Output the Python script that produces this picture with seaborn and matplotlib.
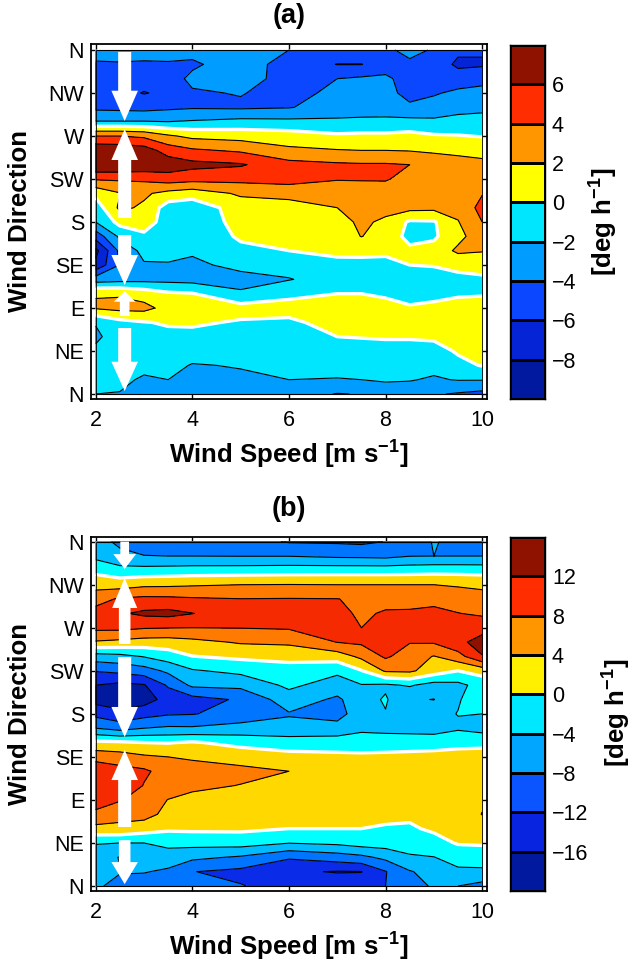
import numpy as np
import matplotlib
matplotlib.use("Agg")
import matplotlib.pyplot as plt
from matplotlib.colors import ListedColormap
import seaborn as sns

speeds = [2, 2.5, 3, 3.5, 4, 5, 6, 7, 7.5, 8, 8.5, 9, 9.5, 10]
dirs_desc = list(range(360, -1, -15))
dir_ticks = [0, 45, 90, 135, 180, 225, 270, 315, 360]
dir_labels = ["N", "NE", "E", "SE", "S", "SW", "W", "NW", "N"]
speed_ticks = [2, 4, 6, 8, 10]

# panel (a): one list per wind speed, from top of the plot (N, 360) to bottom (N, 0)
a_20 = [-3, -4.3, -4.8, -5, -4.5, -1.9, 4, 7.6, 7.9, 4.2, .5, -1.1, -2, -5.2, -8.6, -7.5, -3, 1.9, 2.2, -1.9, -2.3, -1.7, -1.5, -1.4, -2.0]
a_25 = [-3, -4.2, -4.9, -5.4, -4.6, -1.9, 4, 7.4, 7.8, 4.3, 1.9, 2.4, .6, -1.6, -3.5, -3.9, -2.7, 1.8, 2.6, -.6, -1.2, -1.1, -1.1, -1.5, -2.1]
a_30 = [-3.1, -4.3, -5.2, -6.1, -4.7, -1.9, 3.6, 7, 7.5, 4.4, 2.3, 1.7, 1.2, -.5, -1.4, -2.2, -2.6, 1.1, 2.6, -.1, -1, -1.2, -1.4, -2.3, -3]
a_35 = [-3.2, -4.2, -4.8, -5.6, -4.4, -2, 2.3, 5.1, 7.2, 5, 1.4, -1, -1.2, -1.3, -1.6, -2.1, -2.6, .3, 1.3, .2, -.5, -1.1, -1.5, -2, -2.9]
a_40 = [-3.4, -4.3, -3.6, -4.2, -4.2, -1.8, 1.5, 4.3, 6.6, 4.7, .9, -1.3, -1.4, -1.6, -1.8, -2.3, -2.7, .1, 1.2, .3, -.6, -1.3, -2.1, -2.1, -3]
a_50 = [-3, -3, -3.1, -3.9, -4.3, -1.4, 1.2, 3.7, 6.2, 4.6, 2.3, 1, .7, .3, -.5, -1.6, -2.5, -1.8, .8, -.2, -.9, -1.2, -1.9, -2.3, -2.8]
a_60 = [-4, -4.8, -4.8, -4.7, -4.1, -1.5, .9, 2.4, 4.7, 4.8, 2.7, 1.1, 1, .6, 0, -1.2, -2.1, -.4, .6, -.3, -.9, -1.1, -1.4, -2, -3]
a_70 = [-4.6, -6.05, -4, -3.5, -3.2, -1.6, .3, 2.1, 4.3, 4.1, 3, 2, 1.4, 1, .4, -.5, -1.1, 0, .9, .6, 0, -.9, -1.3, -2.1, -4.1]
a_75 = [-4.5, -6.05, -3.7, -3.4, -3.1, -1.5, .4, 2, 4.2, 4.1, 3.3, 2.7, 2.3, 2.05, .6, -.7, -1.2, 0, .9, .7, .1, -.9, -1.3, -2, -3.9]
a_80 = [-4.2, -5, -3.6, -3.3, -3, -1.5, .4, 2, 4.2, 4.1, 3.4, 2.5, 1.7, 1.2, .4, -.6, -1, -.3, .7, .8, .2, -.8, -1.3, -1.8, -3]
a_85 = [-3.7, -4.2, -4.9, -4.7, -3.6, -1.4, .6, 1.9, 4, 3.6, 3, 2.6, -.3, -.6, .4, 0, -.9, -.7, .2, .9, .2, -.8, -1.4, -1.9, -2.9]
a_90 = [-4.1, -4.8, -5, -4.2, -3.2, -1.6, .2, 1.8, 2.8, 2.9, 2.7, 2.5, -.2, -.3, .7, .1, -.8, -.5, .4, 1, .3, -.7, -1.5, -2.2, -3.8]
a_95 = [-5.6, -6.4, -5, -3.6, -2.7, -1.3, .1, 1.7, 2.5, 2.7, 2.7, 2.6, 1.9, 1.4, 2.4, .4, -.4, -.2, .6, 1.1, .9, .2, -.5, -1.9, -4.2]
a_100 = [-5.7, -6.3, -4.4, -3.6, -2.5, -1.2, -.1, 1.6, 2.3, 3, 3.9, 4.6, 4, 3.2, 2.1, .9, -.4, -.1, .5, 1, 1, .6, .1, -1.9, -4.6]

# panel (b)
b_20 = [-6.5, -5, -1, 2.5, 6.5, 9.5, 9, 3.6, -5.8, -11.8, -16, -17.5, -13.2, -8, .9, 6.5, 11, 11.8, 11, 6.6, 3, -3.8, -5.8, -7, -7.5]
b_25 = [-8.8, -7, -2.5, 2.2, 8.5, 11.5, 9, 3, -5.2, -11, -17, -18, -15, -9.5, .6, 5.8, 9.5, 11.5, 8.3, 5.3, 3, -4, -8.2, -7.8, -9]
b_30 = [-9.8, -7.9, -2.5, 3.2, 9, 12.8, 8.3, 2.3, -3.8, -9.8, -16.3, -17.8, -13.5, -8, 0, 4.6, 8.7, 7.8, 6.2, 5.5, 1.8, -4, -6.6, -7.8, -9.8]
b_35 = [-10, -8, -2.3, 3.3, 8.9, 13.2, 8.1, 2.2, -2, -7.2, -11.5, -14.5, -12.4, -7.4, -.2, 4, 6.3, 6, 3.9, 2.8, .6, -2.8, -6.1, -8.6, -9.9]
b_40 = [-10, -8, -2.1, 3.6, 8.5, 12.1, 8, 2.9, -.1, -4.4, -7.2, -13.5, -12.2, -7.5, .4, 3.5, 5.6, 4.7, 3.1, 2.2, .7, -2.6, -7.1, -11.9, -10]
b_50 = [-10.5, -8.1, -2, 4, 8.1, 9.6, 8.1, 4.4, .8, -3, -6.9, -11.5, -10.5, -6.5, -1.3, 2.6, 4.9, 3.9, 3, 1.6, .7, -2.3, -8.5, -13, -11.8]
b_60 = [-12.3, -8.1, -1.8, 4.1, 8.2, 9.7, 8.4, 4.7, 1.3, -1.8, -3.2, -5.8, -8.3, -6.8, -2, 1.3, 4, 3.7, 3, 1.8, 0, -3.9, -11.5, -15.5, -13.5]
b_70 = [-12.5, -8.7, -1.7, 4, 8.1, 9, 9.2, 8.1, 1.9, -3.2, -5.8, -8.7, -9.5, -6.5, -1.9, .9, 2.3, 2.8, 2.8, 1.8, 0, -3.2, -10, -16.2, -13.9]
b_75 = [-12.8, -8.8, -1.7, 4, 7.2, 7.4, 8, 8.7, 4.9, -.2, -4.2, -5.5, -5.8, -4.9, -1.8, .7, 2, 2.6, 2.6, 1.7, 0, -2.2, -9, -16.1, -14.3]
b_80 = [-11.9, -9, -1.7, 4, 6.8, 8.4, 9.8, 10, 8.6, 4.5, -4.6, -3.6, -4.2, -5.3, -1.7, .8, 1.9, 2.6, 2.5, 1.2, -.5, -2.1, -7, -12.2, -12]
b_85 = [-10.5, -8.1, -1.6, 4, 6.5, 8.6, 9.5, 8.2, 6, 4.7, -3.6, -7.5, -5.6, -5.6, -1.5, .9, 1.9, 2.6, 2, .7, -.5, -2.2, -4.5, -8.3, -10]
b_90 = [-7.7, -8, -1.4, 4, 6.9, 9, 9, 8.4, 3.8, 2, -5.5, -8.1, -5, -6, -1.3, 1, 2, 2.6, 1.8, 1.4, .6, -1.4, -4.1, -6.5, -7.4]
b_95 = [-9.1, -8, -1.4, 3.6, 6.2, 8.1, 10, 11, 6.4, 0, -5, -4.3, -3.9, -4.5, -1.1, 1.4, 2.3, 2.7, 1.8, 1.7, 1.3, .3, -2.5, -4.7, -8]
b_100 = [-9.4, -8, -1.5, 3.2, 5.5, 7.4, 10.5, 13.6, 11.8, 1.5, -2.5, -2, -4, -5.5, -.9, 1.4, 2.5, 3, 3.5, 4.1, 2, .4, -1.9, -4.8, -9.3]

levels_a = list(range(-10, 9, 2))
levels_b = list(range(-20, 17, 4))
colors_a = ["#00199f", "#0524d6", "#0a47ff", "#009cff", "#00e6ff", "#ffff00", "#ff9600", "#ff2d00", "#8f1200"]
colors_b = ["#00199f", "#0a2be8", "#0075ff", "#00bbff", "#00ffff", "#ffd800", "#ff7a00", "#f62a00", "#8f1200"]
colors_b_bar = ["#00199e", "#0824e0", "#0a55ff", "#00a6ff", "#00e8ff", "#fff000", "#ff9600", "#ff2d00", "#8f1200"]

# arrows: (start, head base, tip) in degrees of wind direction, at speed 2.6
arrow_speed = 2.6
arrows_a = [(358, 317.4, 285.7), (184.2, 244.9, 277.3), (166.4, 145.5, 114.1), (81.6, 96.6, 107.8), (69.1, 33.8, 3.1)]
arrow_w_a = [(.27, .55), (.27, .55), (.27, .55), (.2, .45), (.27, .55)]
arrows_b = [(360, 347, 331.5), (253, 290.7, 322), (239.4, 187.2, 155.8), (61.7, 110.8, 142.2), (48, 25, 2)]
arrow_w_b = [(.18, .47), (.24, .52), (.27, .55), (.27, .55), (.24, .55)]

sns.set_theme(style="white", rc={"font.family": ["Liberation Sans", "DejaVu Sans"],
                                 "mathtext.fontset": "custom",
                                 "mathtext.rm": "Liberation Sans",
                                 "mathtext.bf": "Liberation Sans:bold",
                                 "axes.unicode_minus": True})
W, H = 633, 964
fig = plt.figure(figsize=(W / 100, H / 100), dpi=100)


def axpx(l, t, r, b):
    return fig.add_axes([l / W, 1 - b / H, (r - l) / W, (b - t) / H])


def panel(cols, levels, colors, bar_colors, arrows, widths, title, box, bar_box, ylim, label_xy, bar_ticks):
    ax = axpx(*box)
    Z = np.column_stack(cols)[::-1]
    y = np.array(dirs_desc)[::-1]
    ax.contourf(speeds, y, Z, levels=levels, colors=colors)
    black = [v for v in levels if v != 0]
    ax.contour(speeds, y, Z, levels=black, colors="black", linewidths=0.8, linestyles="solid")
    ax.contour(speeds, y, Z, levels=[0], colors="white", linewidths=2.4, linestyles="solid")
    ax.hlines([0, 360], 2, 10, color="black", lw=0.8, zorder=3)
    ax.vlines([2, 10], 0, 360, color="black", lw=0.6, zorder=3)
    for (s, m, t), (sw, hw) in zip(arrows, widths):
        xs = [arrow_speed - sw / 2, arrow_speed + sw / 2, arrow_speed + sw / 2, arrow_speed + hw / 2,
              arrow_speed, arrow_speed - hw / 2, arrow_speed - sw / 2]
        ys = [s, s, m, m, t, m, m]
        ax.fill(xs, ys, color="white", lw=0, zorder=5)
    ax.set_xlim(1.903, 10.10)
    ax.set_ylim(*ylim)
    ax.set_xticks(speed_ticks)
    ax.set_yticks(dir_ticks)
    ax.set_yticklabels(dir_labels)
    ax.tick_params(axis="both", which="major", direction="in", length=3.5, width=1, color="black",
                   top=True, right=True, bottom=True, left=True, labelsize=15.5, labelcolor="black")
    ax.tick_params(axis="x", pad=8)
    ax.tick_params(axis="y", pad=5)
    for sp in ax.spines.values():
        sp.set_visible(True)
        sp.set_color("black")
        sp.set_linewidth(1.3)
    ax.set_xlabel(r"Wind Speed [m s$^{\mathbf{-1}}$]", fontsize=18.6, fontweight="bold", color="black", va="center")
    ax.xaxis.set_label_coords(0.5, -0.153)
    ax.set_ylabel("Wind Direction", fontsize=18.6, fontweight="bold", color="black", va="center")
    ax.yaxis.set_label_coords(-0.179, 0.5)
    ax.text(0.5, 1.079, title, transform=ax.transAxes, ha="center", va="center",
            fontsize=19.5, fontweight="bold", color="black")

    cax = axpx(*bar_box)
    n = len(bar_colors)
    cells = np.arange(n)[::-1].reshape(-1, 1)
    sns.heatmap(cells, ax=cax, cmap=ListedColormap(bar_colors), vmin=-.5, vmax=n - .5, cbar=False,
                linewidths=0.8, linecolor="black", xticklabels=False, yticklabels=False)
    cax.yaxis.tick_right()
    cax.set_yticks(range(1, n))
    cax.set_yticklabels([str(v).replace("-", "\u2212") for v in bar_ticks], rotation=0)
    cax.tick_params(axis="y", length=0, pad=5, labelsize=15.5, labelcolor="black")
    for sp in cax.spines.values():
        sp.set_visible(True)
        sp.set_color("black")
        sp.set_linewidth(1)
    fig.text(label_xy[0] / W, 1 - label_xy[1] / H, r"[deg h$^{\mathbf{-1}}$]", rotation=90, ha="center", va="center",
             fontsize=18.6, fontweight="bold", color="black")


panel([a_20, a_25, a_30, a_35, a_40, a_50, a_60, a_70, a_75, a_80, a_85, a_90, a_95, a_100],
      levels_a, colors_a, colors_a, arrows_a, arrow_w_a, "(a)", (91, 44, 487, 399), (510, 45, 545, 399),
      (-5.2, 366.3), (603, 222), levels_a[1:-1][::-1])
panel([b_20, b_25, b_30, b_35, b_40, b_50, b_60, b_70, b_75, b_80, b_85, b_90, b_95, b_100],
      levels_b, colors_b, colors_b_bar, arrows_b, arrow_w_b, "(b)", (91, 537, 487, 891), (510, 537, 545, 891),
      (-5.2, 364.9), (616, 713), levels_b[1:-1][::-1])

fig.savefig("out.png", dpi=100)
